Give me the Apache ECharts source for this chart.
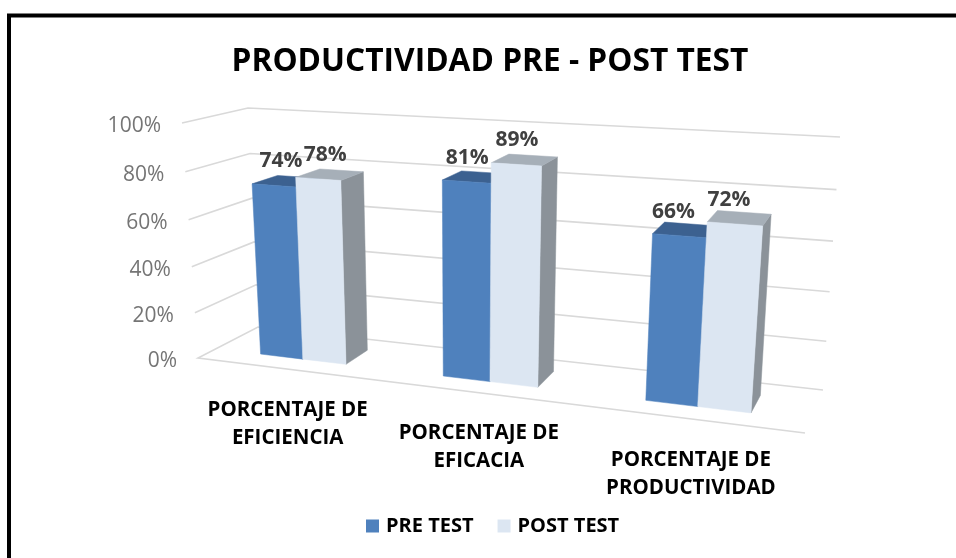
<!DOCTYPE html>
<html><head><meta charset="utf-8">
<style>html,body{margin:0;padding:0;background:#fff}#c{width:956px;height:558px}</style>
<script src="https://cdn.jsdelivr.net/npm/echarts@6/dist/echarts.min.js"></script>
</head><body><div id="c"></div>
<script>
const chartTitle = 'PRODUCTIVIDAD PRE - POST TEST';
const categories = ['PORCENTAJE DE\nEFICIENCIA', 'PORCENTAJE DE\nEFICACIA', 'PORCENTAJE DE\nPRODUCTIVIDAD'];
const preTest = [74, 81, 66];
const postTest = [78, 89, 72];
const axisTicks = [0, 20, 40, 60, 80, 100];

// Logical plot rectangle: the ECharts scales map into it, then it is projected onto the 3D box.
const G = {left: 100, top: 100, width: 600, height: 300};
const C = {
  p000: [198, 358], p100: [805, 433], p001: [258, 327], p101: [823, 390],
  p010: [182, 123], p110: [826, 160], p011: [248, 108], p111: [840, 137]
};
const W_FRONT = 0.30, W_BACK = 0.72, BAR_FRAC = 0.24;
const mix = (a, b, t) => [a[0] + (b[0] - a[0]) * t, a[1] + (b[1] - a[1]) * t];
const warpU = t => 0.855 * t / (1 - 0.145 * t);
const warpV = t => 0.953 * t / (1 - 0.047 * t);
function project(t, val, w) {
  const u = warpU(t), v = warpV(val);
  const f = mix(mix(C.p000, C.p100, u), mix(C.p010, C.p110, u), v);
  const b = mix(mix(C.p001, C.p101, u), mix(C.p011, C.p111, u), v);
  return mix(f, b, w);
}
const normT = x => (x - G.left) / G.width;
const normV = y => (G.top + G.height - y) / G.height;

const FONT = '"Open Sans", "Noto Sans", sans-serif';

function poly(points, fill) {
  return {type: 'polygon', shape: {points}, style: {fill, stroke: fill, lineWidth: 0.5}};
}
function barRenderer(side, colors) {
  return function (params, api) {
    const cat = api.value(0), value = api.value(1);
    const pt = api.coord([cat, value]);
    const base = api.coord([cat, 0]);
    const band = api.size([1, 0])[0];
    const off = side < 0 ? -BAR_FRAC * band : 0;
    const t0 = normT(pt[0] + off), t1 = normT(pt[0] + off + BAR_FRAC * band);
    const v1 = normV(pt[1]), v0 = normV(base[1]);
    const fbl = project(t0, v0, W_FRONT), fbr = project(t1, v0, W_FRONT);
    const ftl = project(t0, v1, W_FRONT), ftr = project(t1, v1, W_FRONT);
    const bbr = project(t1, v0, W_BACK), btl = project(t0, v1, W_BACK), btr = project(t1, v1, W_BACK);
    const mid = mix(ftl, ftr, 0.5);
    const tc = normT(pt[0]);
    return {type: 'group', children: [
      poly([ftr, btr, bbr, fbr], colors.side),
      poly([ftl, btl, btr, ftr], colors.top),
      poly([fbl, fbr, ftr, ftl], colors.front),
      {type: 'text', z2: 10, style: {
        text: value + '%', x: mid[0] + 10.25 - 19.5 * tc, y: mid[1] - 24,
        align: 'center', verticalAlign: 'middle',
        font: 'bold 21px ' + FONT, fill: '#404040'}}
    ]};
  };
}
function gridRenderer(params, api) {
  const value = api.value(0);
  const y = api.coord([0, value])[1];
  const v = normV(y);
  const fl = project(0, v, 0), bl = project(0, v, 1), br = project(1, v, 1);
  const pts = value === 0 ? [project(1, v, 0), fl, bl, br] : [fl, bl, br];
  return {type: 'group', children: [
    {type: 'polyline', shape: {points: pts}, style: {stroke: '#D9D9D9', lineWidth: 1.6, fill: 'none'}},
    {type: 'text', style: {text: value + '%', x: fl[0] - 21, y: fl[1] + 3, align: 'right', verticalAlign: 'middle',
      font: '21px ' + FONT, fill: '#757575'}}
  ]};
}
function catRenderer(params, api) {
  const i = api.value(0);
  const pt = api.coord([i, 0]);
  const p = project(normT(pt[0]), 0, 0);
  return {type: 'text', style: {text: categories[i], x: p[0] + 1, y: p[1] + 55, align: 'center', verticalAlign: 'middle',
    font: 'bold 20.5px ' + FONT, fill: '#000', lineHeight: 28}};
}
const chart = echarts.init(document.getElementById('c'), null, {renderer: 'canvas'});
chart.setOption({
  animation: false,
  backgroundColor: '#fff',
  title: {text: chartTitle, left: 485, top: 57, textAlign: 'center', textVerticalAlign: 'middle',
    textStyle: {fontFamily: FONT, fontWeight: 'bold', fontSize: 31.7, color: '#000'}},
  legend: {left: 366, top: 516, padding: 0, itemWidth: 13, itemHeight: 13, itemGap: 24, icon: 'rect',
    data: ['PRE TEST', 'POST TEST'],
    textStyle: {fontFamily: FONT, fontWeight: 'bold', fontSize: 20, color: '#000', padding: [0, 0, 0, 2]}},
  grid: G,
  xAxis: {type: 'category', data: categories, show: false},
  yAxis: {type: 'value', min: 0, max: 100, interval: 20, show: false},
  graphic: [
    {type: 'polyline', silent: true, shape: {points: [[9, 558], [9, 15.5], [956, 15.5]]},
      style: {stroke: '#000', lineWidth: 4, fill: 'none'}}
  ],
  series: [
    {type: 'custom', silent: true, name: 'grid', coordinateSystem: 'cartesian2d', renderItem: gridRenderer,
      encode: {y: 0}, data: axisTicks.map(v => [v]), clip: false},
    {type: 'custom', silent: true, name: 'cats', renderItem: catRenderer, encode: {x: 0},
      data: categories.map((c, i) => [i]), clip: false},
    {type: 'custom', name: 'PRE TEST', itemStyle: {color: '#4F81BD'}, clip: false,
      renderItem: barRenderer(-1, {front: '#4F81BD', top: '#3C6190', side: '#3C6190'}),
      encode: {x: 0, y: 1}, data: preTest.map((v, i) => [i, v])},
    {type: 'custom', name: 'POST TEST', itemStyle: {color: '#DCE6F2'}, clip: false,
      renderItem: barRenderer(1, {front: '#DCE6F2', top: '#A6AFB8', side: '#8B9299'}),
      encode: {x: 0, y: 1}, data: postTest.map((v, i) => [i, v])}
  ]
});
</script></body></html>
